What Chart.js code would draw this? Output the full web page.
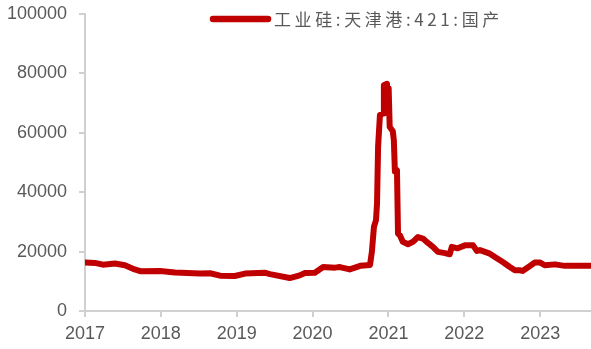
<!DOCTYPE html>
<html>
<head>
<meta charset="utf-8">
<script src="https://cdn.jsdelivr.net/npm/chart.js@4.4.0/dist/chart.umd.min.js"></script>
<style>
    html, body { margin: 0; padding: 0; background: #fff; }
    #wrap { width: 591px; height: 349px; }
</style>
</head>
<body>
<div id="wrap"><canvas id="chart"></canvas></div>
<script>
const seriesLabel = '工业硅:天津港:421:国产';

const dates = [
    '2017-01-01', '2017-02-18', '2017-03-28', '2017-05-25', '2017-07-12', '2017-08-28', '2017-09-24',
    '2017-12-28', '2018-03-10', '2018-07-08', '2018-08-26', '2018-10-13', '2018-12-23', '2019-02-10',
    '2019-05-15', '2019-06-10', '2019-09-13', '2019-10-31', '2019-11-25', '2020-01-12', '2020-02-21',
    '2020-04-18', '2020-05-12', '2020-06-28', '2020-08-18', '2020-10-04', '2020-10-13', '2020-10-23',
    '2020-11-02', '2020-11-07', '2020-11-12', '2020-11-21', '2020-12-06', '2020-12-10', '2020-12-25',
    '2020-12-29', '2021-01-02', '2021-01-07', '2021-01-22', '2021-01-27', '2021-02-01', '2021-02-11',
    '2021-02-16', '2021-02-25', '2021-03-11', '2021-04-05', '2021-04-29', '2021-05-23', '2021-06-16',
    '2021-07-10', '2021-08-03', '2021-08-27', '2021-09-30', '2021-10-23', '2021-11-02', '2021-11-30',
    '2022-01-04', '2022-02-12', '2022-03-03', '2022-03-17', '2022-05-04', '2022-05-28', '2022-07-05',
    '2022-08-08', '2022-09-01', '2022-09-24', '2022-10-08', '2022-11-11', '2022-12-06', '2023-01-01',
    '2023-01-23', '2023-03-13', '2023-04-30', '2023-09-01'
];

const prices = [
    16300, 16200, 15600, 16000, 15400, 14000, 13400,
    13500, 13000, 12600, 12700, 11900, 11800, 12600,
    12900, 12400, 11100, 12000, 12800, 12900, 14800,
    14600, 14800, 14000, 15200, 15500, 19900, 28300,
    30600, 36300, 55300, 66000, 66500, 76000, 76500,
    70000, 75000, 62000, 60500, 57500, 47000, 47400,
    26100, 25500, 23300, 22500, 23300, 24900, 24400,
    22900, 21600, 19900, 19500, 19100, 21600, 21100,
    22100, 22100, 20200, 20500, 19300, 18200, 16500,
    14800, 13700, 13700, 13500, 15100, 16300, 16300,
    15400, 15700, 15200, 15200
];

const yearTicks = [2017, 2018, 2019, 2020, 2021, 2022, 2023];
const xMin = 2017;
const xMax = 2023.67;

const lineColor = '#C00000';
const textColor = '#595959';
const axisColor = '#D0D0D0';

function toYear(s) {
    const d = new Date(s + 'T00:00:00Z');
    const y = d.getUTCFullYear();
    const start = Date.UTC(y, 0, 1);
    const end = Date.UTC(y + 1, 0, 1);
    return y + (d.getTime() - start) / (end - start);
}

const points = dates.map((d, i) => ({ x: toYear(d), y: prices[i] }));

// legend sits inside the plot area, so draw it by hand
const insideLegend = {
    id: 'insideLegend',
    afterDraw(chart, args, opts) {
        const ds = chart.data.datasets[0];
        const ctx = chart.ctx;
        ctx.save();
        ctx.strokeStyle = ds.borderColor;
        ctx.lineWidth = 6.5;
        ctx.lineCap = 'round';
        ctx.beginPath();
        ctx.moveTo(opts.x, opts.y);
        ctx.lineTo(opts.x + opts.lineLength, opts.y);
        ctx.stroke();
        ctx.fillStyle = textColor;
        ctx.font = '17px "Noto Sans CJK SC", sans-serif';
        ctx.letterSpacing = '3.6px';
        ctx.textBaseline = 'middle';
        ctx.fillText(ds.label, opts.x + opts.lineLength + 6, opts.y + 1);
        ctx.restore();
    }
};

new Chart(document.getElementById('chart'), {
    type: 'line',
    data: {
        datasets: [{
            label: seriesLabel,
            data: points,
            borderColor: lineColor,
            backgroundColor: lineColor,
            borderWidth: 6,
            borderJoinStyle: 'round',
            borderCapStyle: 'round',
            pointRadius: 0,
            tension: 0
        }]
    },
    plugins: [insideLegend],
    options: {
        responsive: true,
        maintainAspectRatio: false,
        devicePixelRatio: 1,
        animation: false,
        layout: { padding: { top: 14, right: 0, left: 0, bottom: 0 } },
        plugins: {
            legend: { display: false },
            tooltip: { enabled: false },
            insideLegend: { x: 213, y: 19, lineLength: 55 }
        },
        scales: {
            x: {
                type: 'linear',
                min: xMin,
                max: xMax,
                afterBuildTicks: scale => {
                    scale.ticks = yearTicks.map(v => ({ value: v }));
                },
                afterFit: scale => {
                    scale.height = 38;
                    scale.paddingLeft = 0;
                    scale.paddingRight = 0;
                },
                grid: {
                    drawOnChartArea: false,
                    drawTicks: true,
                    tickLength: 6,
                    color: axisColor,
                    lineWidth: 2
                },
                border: { display: true, color: axisColor, width: 2 },
                ticks: {
                    color: textColor,
                    font: { family: '"Liberation Sans", Arial, sans-serif', size: 18 },
                    padding: 6,
                    maxRotation: 0,
                    autoSkip: false,
                    callback: v => String(v)
                }
            },
            y: {
                min: 0,
                max: 100000,
                afterFit: scale => {
                    scale.width = 85;
                    scale.paddingTop = 0;
                    scale.paddingBottom = 0;
                },
                grid: {
                    drawOnChartArea: false,
                    drawTicks: true,
                    tickLength: 6,
                    color: axisColor,
                    lineWidth: 2
                },
                border: { display: true, color: axisColor, width: 2 },
                ticks: {
                    stepSize: 20000,
                    color: textColor,
                    font: { family: '"Liberation Sans", Arial, sans-serif', size: 18 },
                    padding: 12,
                    callback: v => String(v)
                }
            }
        }
    }
});
</script>
</body>
</html>
